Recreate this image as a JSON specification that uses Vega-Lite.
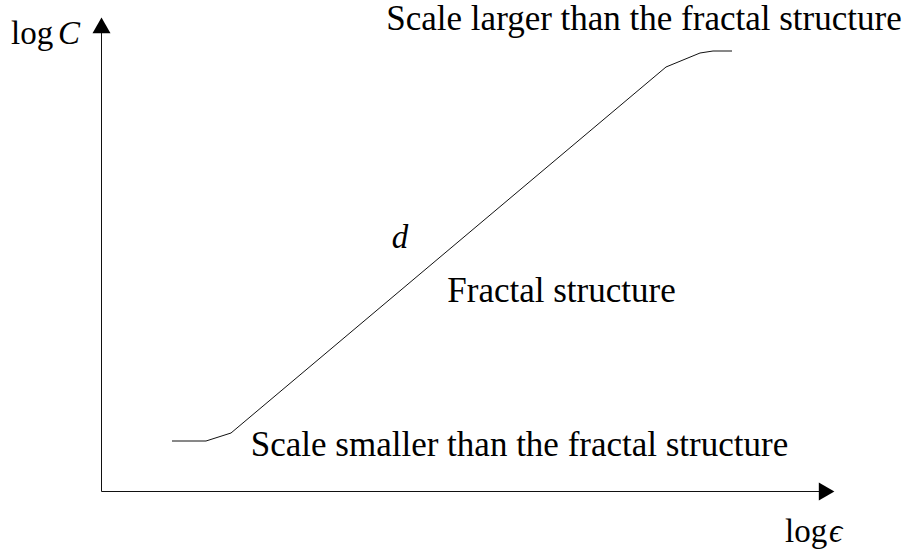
{
  "$schema": "https://vega.github.io/schema/vega-lite/v6.json",
  "width": 906,
  "height": 551,
  "autosize": "none",
  "padding": 0,
  "background": "white",
  "config": {"view": {"stroke": null}},
  "layer": [
    {
      "data": {"values": [
        {"x": 0, "y": 0, "x2": 0, "y2": 4.6},
        {"x": 0, "y": 0, "x2": 7.2, "y2": 0}
      ]},
      "mark": {"type": "rule", "color": "#111", "strokeWidth": 1},
      "encoding": {
        "x": {"field": "x", "type": "quantitative", "scale": {"domain": [-1.015, 8.045]}, "axis": null},
        "y": {"field": "y", "type": "quantitative", "scale": {"domain": [-0.595, 4.915]}, "axis": null},
        "x2": {"field": "x2"},
        "y2": {"field": "y2"}
      }
    },
    {
      "data": {"values": [
        {"x": 0, "y": 4.661, "shape": "triangle-up"},
        {"x": 7.251, "y": 0, "shape": "triangle-right"}
      ]},
      "mark": {"type": "point", "filled": true, "color": "black", "size": 324, "opacity": 1},
      "encoding": {
        "x": {"field": "x", "type": "quantitative", "scale": {"domain": [-1.015, 8.045]}, "axis": null},
        "y": {"field": "y", "type": "quantitative", "scale": {"domain": [-0.595, 4.915]}, "axis": null},
        "shape": {"field": "shape", "type": "nominal", "scale": null}
      }
    },
    {
      "data": {"values": [
        {"eps": 0.705, "c": 0.505},
        {"eps": 1.045, "c": 0.505},
        {"eps": 1.295, "c": 0.585},
        {"eps": 5.645, "c": 4.245},
        {"eps": 5.985, "c": 4.385},
        {"eps": 6.115, "c": 4.405},
        {"eps": 6.305, "c": 4.405}
      ]},
      "mark": {"type": "line", "color": "#111", "strokeWidth": 1},
      "encoding": {
        "x": {"field": "eps", "type": "quantitative", "sort": null, "scale": {"domain": [-1.015, 8.045]}, "axis": null},
        "y": {"field": "c", "type": "quantitative", "scale": {"domain": [-0.595, 4.915]}, "axis": null},
        "order": {"field": "eps"}
      }
    },
    {
      "data": {"values": [
        {"x": 5.425, "y": 4.615, "label": "Scale larger than the fractal structure"},
        {"x": 4.6, "y": 1.895, "label": "Fractal structure"},
        {"x": 4.18, "y": 0.355, "label": "Scale smaller than the fractal structure"}
      ]},
      "mark": {"type": "text", "font": "Liberation Serif", "fontSize": 35, "color": "black", "align": "center", "baseline": "alphabetic"},
      "encoding": {
        "x": {"field": "x", "type": "quantitative", "scale": {"domain": [-1.015, 8.045]}, "axis": null},
        "y": {"field": "y", "type": "quantitative", "scale": {"domain": [-0.595, 4.915]}, "axis": null},
        "text": {"field": "label"}
      }
    },
    {
      "data": {"values": [
        {"x": -0.905, "y": 4.475, "label": "log"},
        {"x": 6.835, "y": -0.505, "label": "log"}
      ]},
      "mark": {"type": "text", "font": "Liberation Serif", "fontSize": 33, "color": "black", "align": "left", "baseline": "alphabetic"},
      "encoding": {
        "x": {"field": "x", "type": "quantitative", "scale": {"domain": [-1.015, 8.045]}, "axis": null},
        "y": {"field": "y", "type": "quantitative", "scale": {"domain": [-0.595, 4.915]}, "axis": null},
        "text": {"field": "label"}
      }
    },
    {
      "data": {"values": [
        {"x": -0.435, "y": 4.475, "label": "C"},
        {"x": 7.275, "y": -0.505, "label": "ϵ"}
      ]},
      "mark": {"type": "text", "font": "Liberation Serif", "fontSize": 33, "fontStyle": "italic", "color": "black", "align": "left", "baseline": "alphabetic"},
      "encoding": {
        "x": {"field": "x", "type": "quantitative", "scale": {"domain": [-1.015, 8.045]}, "axis": null},
        "y": {"field": "y", "type": "quantitative", "scale": {"domain": [-0.595, 4.915]}, "axis": null},
        "text": {"field": "label"}
      }
    },
    {
      "data": {"values": [
        {"x": 2.985, "y": 2.435, "label": "d"}
      ]},
      "mark": {"type": "text", "font": "Liberation Serif", "fontSize": 33, "fontStyle": "italic", "color": "black", "align": "center", "baseline": "alphabetic"},
      "encoding": {
        "x": {"field": "x", "type": "quantitative", "scale": {"domain": [-1.015, 8.045]}, "axis": null},
        "y": {"field": "y", "type": "quantitative", "scale": {"domain": [-0.595, 4.915]}, "axis": null},
        "text": {"field": "label"}
      }
    }
  ]
}
